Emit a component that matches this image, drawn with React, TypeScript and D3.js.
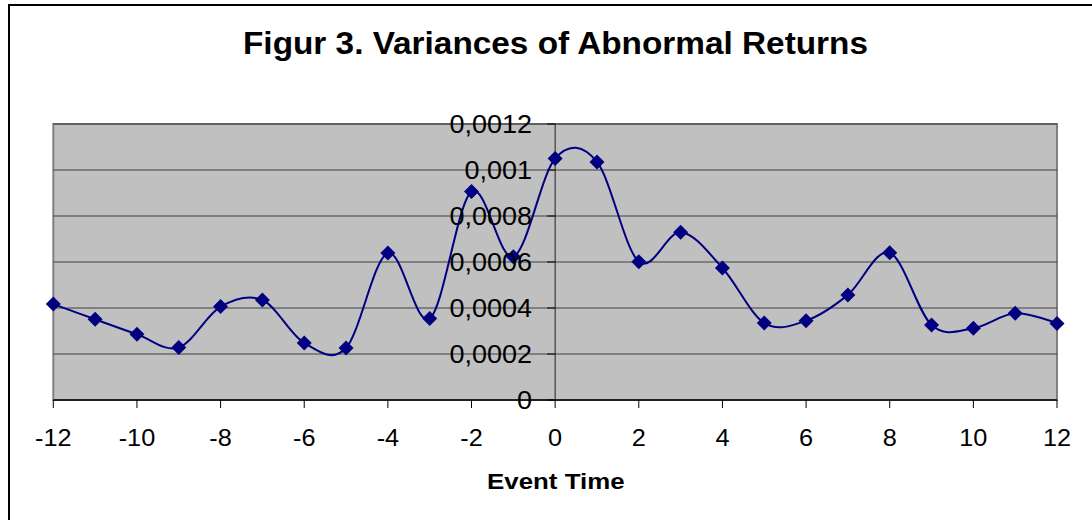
import React from "react";
import * as d3 from "d3";

const eventTimes = [-12, -11, -10, -9, -8, -7, -6, -5, -4, -3, -2, -1, 0, 1, 2, 3, 4, 5, 6, 7, 8, 9, 10, 11, 12];
const variances = [
  0.000417, 0.000351, 0.000286, 0.000228, 0.000406, 0.000435, 0.000248, 0.000226, 0.000639,
  0.000354, 0.000906, 0.000623, 0.00105, 0.001035, 0.000601, 0.000729, 0.000574, 0.000335,
  0.000345, 0.000457, 0.00064, 0.000326, 0.000312, 0.000377, 0.000333,
];
const yTicks = [0, 0.0002, 0.0004, 0.0006, 0.0008, 0.001, 0.0012];
const yTickLabels = ["0", "0,0002", "0,0004", "0,0006", "0,0008", "0,001", "0,0012"];
const xTicks = [-12, -10, -8, -6, -4, -2, 0, 2, 4, 6, 8, 10, 12];
const xTickLabels = ["-12", "-10", "-8", "-6", "-4", "-2", "0", "2", "4", "6", "8", "10", "12"];
const title = "Figur 3. Variances of Abnormal Returns";
const xTitle = "Event Time";

export default function App() {
  const W = 1092, H = 520;
  const left = 53.3, right = 1057, top = 124, bottom = 400;
  const x = d3.scaleLinear().domain([-12, 12]).range([left, right]);
  const y = d3.scaleLinear().domain([0, 0.0012]).range([bottom, top]);
  const pts: [number, number][] = eventTimes.map((t, i) => [x(t), y(variances[i])]);
  const line = d3.line().curve(d3.curveCardinal.tension(0))(pts) || "";
  const font = "Arial, 'Liberation Sans', sans-serif";
  const x0 = x(0);
  return (
    <svg width={W} height={H} style={{ position: "absolute", left: 0, top: 0 }} fontFamily={font}>
      <rect x={0} y={0} width={W} height={H} fill="#fff" />
      <rect x={9} y={5} width={1200} height={700} fill="none" stroke="#000" strokeWidth={2} />
      <text x={243} y={54} fontSize={32} fontWeight="bold" textLength={625} lengthAdjust="spacingAndGlyphs">{title}</text>
      {/* plot area */}
      <rect x={left} y={top} width={right - left} height={bottom - top} fill="#C0C0C0" stroke="#808080" strokeWidth={2} />
      {yTicks.slice(1).map((v) => (
        <line key={v} x1={left} x2={right} y1={y(v)} y2={y(v)} stroke="#404040" strokeWidth={1.2} />
      ))}
      {/* x axis */}
      <line x1={left} x2={right} y1={bottom} y2={bottom} stroke="#000" strokeWidth={1.5} />
      {xTicks.map((t) => (
        <line key={t} x1={x(t)} x2={x(t)} y1={bottom} y2={bottom + 8} stroke="#000" strokeWidth={1} />
      ))}
      {/* y axis at x=0 */}
      <line x1={x0} x2={x0} y1={top} y2={bottom} stroke="#202020" strokeWidth={1} />
      {yTicks.map((v) => (
        <line key={v} x1={x0 - 8} x2={x0} y1={y(v)} y2={y(v)} stroke="#000" strokeWidth={1} />
      ))}
      <path d={line} fill="none" stroke="#000080" strokeWidth={2} />
      {pts.map(([px, py], i) => (
        <path key={i} d={`M${px},${py - 7.5}L${px + 7.5},${py}L${px},${py + 7.5}L${px - 7.5},${py}Z`} fill="#000080" />
      ))}
      {yTicks.map((v, i) => (
        <text key={v} transform={`translate(532,${y(v) + 9}) scale(1.08,1)`} fontSize={25} textAnchor="end" fill="#000">
          {yTickLabels[i]}
        </text>
      ))}
      {xTicks.map((t, i) => (
        <text key={t} transform={`translate(${x(t)},446) scale(1.1,1)`} fontSize={23} textAnchor="middle" fill="#000">
          {xTickLabels[i]}
        </text>
      ))}
      <text x={487} y={489} fontSize={22} fontWeight="bold" textLength={137.6} lengthAdjust="spacingAndGlyphs">{xTitle}</text>
    </svg>
  );
}
